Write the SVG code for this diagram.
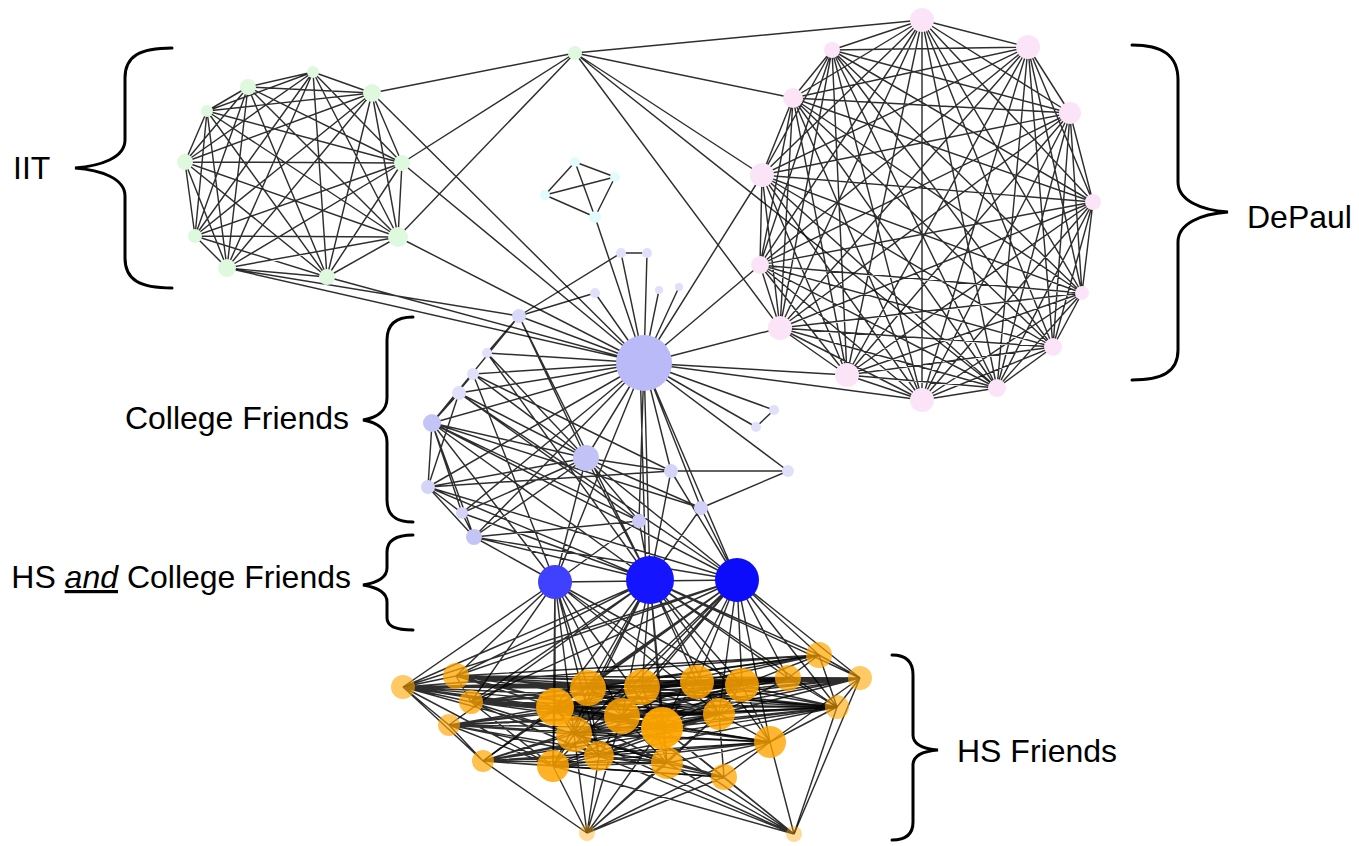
<svg xmlns="http://www.w3.org/2000/svg" width="1359" height="846" viewBox="0 0 1359 846">
<style>
.e{fill:none;stroke:#000;stroke-width:1.45;stroke-opacity:0.82}
.br{fill:none;stroke:#000;stroke-width:3;stroke-linecap:round}
.lbl{font-family:"Liberation Sans",Arial,sans-serif;font-size:32px;fill:#000}
.iit{fill:#dff9df}
.dp{fill:#fce4f8}
.cy{fill:#e0fcfc}
.lv{fill:#e0e0fa}
.or{fill:#ffa500}
</style>
<rect width="1359" height="846" fill="#fff"/>
<g id="connectors">
<path class="e" d="M313 72L248 87M313 72L372 93M313 72L207 111M313 72L185 162M313 72L402 163M313 72L195 236M313 72L398 237M313 72L227 268M313 72L327 277M248 87L372 93M248 87L207 111M248 87L185 162M248 87L402 163M248 87L195 236M248 87L398 237M248 87L227 268M248 87L327 277M372 93L207 111M372 93L185 162M372 93L402 163M372 93L195 236M372 93L398 237M372 93L227 268M372 93L327 277M207 111L185 162M207 111L402 163M207 111L195 236M207 111L398 237M207 111L227 268M207 111L327 277M185 162L402 163M185 162L195 236M185 162L398 237M185 162L227 268M185 162L327 277M402 163L195 236M402 163L398 237M402 163L227 268M402 163L327 277M195 236L398 237M195 236L227 268M195 236L327 277M398 237L227 268M398 237L327 277M227 268L327 277"/>
<path class="e" d="M922 20L832 50M922 20L1028 47M922 20L793 98M922 20L1070 113M922 20L762 175M922 20L1093 202M922 20L760 265M922 20L1082 293M922 20L780 328M922 20L1053 347M922 20L847 375M922 20L997 388M922 20L922 400M832 50L1028 47M832 50L793 98M832 50L1070 113M832 50L762 175M832 50L1093 202M832 50L760 265M832 50L1082 293M832 50L780 328M832 50L1053 347M832 50L847 375M832 50L997 388M832 50L922 400M1028 47L793 98M1028 47L1070 113M1028 47L762 175M1028 47L1093 202M1028 47L760 265M1028 47L1082 293M1028 47L780 328M1028 47L1053 347M1028 47L847 375M1028 47L997 388M1028 47L922 400M793 98L1070 113M793 98L762 175M793 98L1093 202M793 98L760 265M793 98L1082 293M793 98L780 328M793 98L1053 347M793 98L847 375M793 98L997 388M793 98L922 400M1070 113L762 175M1070 113L1093 202M1070 113L760 265M1070 113L1082 293M1070 113L780 328M1070 113L1053 347M1070 113L847 375M1070 113L997 388M1070 113L922 400M762 175L1093 202M762 175L760 265M762 175L1082 293M762 175L780 328M762 175L1053 347M762 175L847 375M762 175L997 388M762 175L922 400M1093 202L760 265M1093 202L1082 293M1093 202L780 328M1093 202L1053 347M1093 202L847 375M1093 202L997 388M1093 202L922 400M760 265L1082 293M760 265L780 328M760 265L1053 347M760 265L847 375M760 265L997 388M760 265L922 400M1082 293L780 328M1082 293L1053 347M1082 293L847 375M1082 293L997 388M1082 293L922 400M780 328L1053 347M780 328L847 375M780 328L997 388M780 328L922 400M1053 347L847 375M1053 347L997 388M1053 347L922 400M847 375L997 388M847 375L922 400M997 388L922 400"/>
<path class="e" d="M575 53L372 93M575 53L402 163M575 53L398 237M575 53L922 20M575 53L793 98M575 53L762 175M575 53L780 328M575 53L997 388M644 363L372 93M644 363L402 163M644 363L398 237M644 363L227 268M644 363L327 277M519 316L227 268M644 363L762 175M644 363L760 265M644 363L780 328M644 363L847 375M644 363L922 400"/>
<path class="e" d="M575 162L615 177M575 162L545 195M575 162L595 217M615 177L545 195M615 177L595 217M545 195L595 217M595 217L644 363M621 253L647 253M621 253L644 363M647 253L644 363M595 293L644 363M659 290L644 363M679 287L644 363M621 253L519 316M595 293L519 316"/>
<path class="e" d="M644 363L519 316M644 363L487 353M644 363L473 374M644 363L459 393M644 363L432 423M644 363L586 458M644 363L774 410M644 363L756 427M644 363L671 471M644 363L788 471M644 363L428 487M644 363L701 508M644 363L462 513M644 363L639 521M644 363L474 537M644 363L555 582M644 363L650 580M640 363L646 580M644 363L737 580M519 316L487 353M519 316L432 423M519 316L586 458M519 316L650 580M487 353L586 458M487 353L650 580M473 374L432 423M473 374L586 458M473 374L555 582M473 374L671 471M459 393L432 423M459 393L428 487M459 393L586 458M459 393L737 580M459 393L639 521M432 423L428 487M432 423L462 513M432 423L474 537M432 423L586 458M432 423L555 582M432 423L650 580M432 423L737 580M432 423L639 521M432 423L701 508M428 487L462 513M428 487L474 537M428 487L586 458M428 487L650 580M428 487L737 580M428 487L671 471M462 513L474 537M462 513L586 458M462 513L650 580M474 537L586 458M474 537L555 582M474 537L650 580M474 537L737 580M474 537L639 521M586 458L671 471M586 458L701 508M586 458L555 582M586 458L650 580M586 458L737 580M586 458L639 521M671 471L788 471M671 471L737 580M671 471L650 580M788 471L701 508M701 508L737 580M701 508L650 580M639 521L650 580M639 521L555 582M774 410L756 427M555 582L737 580"/>
<path class="e" d="M555 582L403 687M555 582L456 676M555 582L471 702M555 582L555 707M555 582L588 688M555 582L622 716M555 582L574 734M555 582L662 728M555 582L697 682M555 582L742 685M555 582L599 756M555 582L553 766M555 582L719 714M650 580L403 687M650 580L456 676M650 580L471 702M650 580L449 725M650 580L555 707M650 580L588 688M650 580L642 687M650 580L622 716M650 580L574 734M650 580L662 728M650 580L553 766M650 580L697 682M650 580L742 685M650 580L719 714M650 580L788 678M650 580L819 655M650 580L860 678M650 580L837 707M650 580L770 742M650 580L667 763M737 580L456 676M737 580L471 702M737 580L555 707M737 580L588 688M737 580L642 687M737 580L622 716M737 580L574 734M737 580L662 728M737 580L697 682M737 580L742 685M737 580L719 714M737 580L788 678M737 580L819 655M737 580L860 678M737 580L837 707M737 580L770 742M737 580L553 766M737 580L483 761M737 580L403 687"/>
<path class="e" d="M403 687L456 676M403 687L471 702M403 687L449 725M403 687L555 707M403 687L588 688M403 687L642 687M403 687L622 716M403 687L574 734M403 687L662 728M403 687L697 682M403 687L742 685M403 687L719 714M403 687L788 678M403 687L819 655M403 687L860 678M403 687L483 761M403 687L553 766M403 687L837 707M403 687L770 742M860 678L819 655M860 678L837 707M860 678L788 678M860 678L742 685M860 678L697 682M860 678L719 714M860 678L770 742M860 678L662 728M860 678L642 687M860 678L622 716M860 678L555 707M860 678L588 688M860 678L471 702M860 678L449 725M860 678L794 834M860 678L456 676M860 678L574 734M456 676L471 702M456 676L555 707M456 676L588 688M456 676L642 687M456 676L697 682M456 676L742 685M456 676L788 678M456 676L819 655M456 676L662 728M456 676L622 716M456 676L837 707M456 676L719 714M471 702L555 707M471 702L588 688M471 702L622 716M471 702L574 734M471 702L662 728M471 702L553 766M471 702L599 756M471 702L667 763M471 702L742 685M471 702L719 714M471 702L837 707M471 702L788 678M471 702L819 655M449 725L555 707M449 725L622 716M449 725L574 734M449 725L662 728M449 725L553 766M449 725L599 756M449 725L667 763M449 725L719 714M449 725L770 742M449 725L483 761M449 725L837 707M449 725L742 685M483 761L555 707M483 761L622 716M483 761L574 734M483 761L662 728M483 761L553 766M483 761L599 756M483 761L667 763M483 761L719 714M483 761L724 777M483 761L587 833M483 761L837 707M483 761L770 742"/>
<path class="e" d="M555 707L588 688M555 707L642 687M555 707L622 716M555 707L574 734M555 707L662 728M555 707L553 766M555 707L599 756M555 707L667 763M555 707L697 682M555 707L742 685M555 707L719 714M555 707L770 742M555 707L788 678M555 707L837 707M588 688L642 687M588 688L622 716M588 688L574 734M588 688L662 728M588 688L599 756M588 688L697 682M588 688L742 685M588 688L719 714M588 688L788 678M588 688L819 655M588 688L837 707M642 687L622 716M642 687L662 728M642 687L697 682M642 687L742 685M642 687L719 714M642 687L788 678M642 687L819 655M642 687L667 763M642 687L837 707M622 716L574 734M622 716L662 728M622 716L599 756M622 716L667 763M622 716L697 682M622 716L742 685M622 716L719 714M622 716L837 707M622 716L788 678M574 734L662 728M574 734L553 766M574 734L599 756M574 734L667 763M574 734L719 714M574 734L770 742M574 734L724 777M574 734L742 685M574 734L837 707M662 728L599 756M662 728L667 763M662 728L697 682M662 728L742 685M662 728L719 714M662 728L837 707M662 728L770 742M662 728L724 777M553 766L599 756M553 766L667 763M553 766L719 714M553 766L770 742M553 766L724 777M553 766L587 833M553 766L742 685M599 756L667 763M599 756L719 714M599 756L770 742M599 756L724 777M599 756L587 833M599 756L837 707M667 763L719 714M667 763L770 742M667 763L724 777M667 763L587 833M667 763L794 834M697 682L742 685M697 682L719 714M697 682L788 678M697 682L819 655M697 682L837 707M742 685L719 714M742 685L788 678M742 685L819 655M742 685L837 707M742 685L770 742M719 714L788 678M719 714L837 707M719 714L770 742M719 714L724 777M788 678L819 655M788 678L837 707M819 655L837 707M837 707L770 742M837 707L794 834M770 742L724 777M770 742L794 834M724 777L794 834M724 777L587 833M587 833L574 734M587 833L662 728M587 833L622 716M587 833L719 714M587 833L770 742M794 834L574 734M794 834L662 728M794 834L553 766M794 834L599 756M794 834L622 716"/>
</g>
<g id="iit-nodes">
<g id="iit1"><circle class="iit" cx="313" cy="72" r="6"/></g>
<g id="iit2"><circle class="iit" cx="248" cy="87" r="8"/></g>
<g id="iit3"><circle class="iit" cx="372" cy="93" r="9"/></g>
<g id="iit4"><circle class="iit" cx="207" cy="111" r="6"/></g>
<g id="iit5"><circle class="iit" cx="185" cy="162" r="8"/></g>
<g id="iit6"><circle class="iit" cx="402" cy="163" r="8"/></g>
<g id="iit7"><circle class="iit" cx="195" cy="236" r="7"/></g>
<g id="iit8"><circle class="iit" cx="398" cy="237" r="10"/></g>
<g id="iit9"><circle class="iit" cx="227" cy="268" r="9"/></g>
<g id="iit10"><circle class="iit" cx="327" cy="277" r="8"/></g>
<g id="iit11"><circle class="iit" cx="575" cy="53" r="7"/></g>
</g>
<g id="depaul-nodes">
<g id="dp1"><circle class="dp" cx="922" cy="20" r="12"/></g>
<g id="dp2"><circle class="dp" cx="832" cy="50" r="8"/></g>
<g id="dp3"><circle class="dp" cx="1028" cy="47" r="12"/></g>
<g id="dp4"><circle class="dp" cx="793" cy="98" r="10"/></g>
<g id="dp5"><circle class="dp" cx="1070" cy="113" r="11"/></g>
<g id="dp6"><circle class="dp" cx="762" cy="175" r="12"/></g>
<g id="dp7"><circle class="dp" cx="1093" cy="202" r="8"/></g>
<g id="dp8"><circle class="dp" cx="760" cy="265" r="9"/></g>
<g id="dp9"><circle class="dp" cx="1082" cy="293" r="7"/></g>
<g id="dp10"><circle class="dp" cx="780" cy="328" r="12"/></g>
<g id="dp11"><circle class="dp" cx="1053" cy="347" r="9"/></g>
<g id="dp12"><circle class="dp" cx="847" cy="375" r="12"/></g>
<g id="dp13"><circle class="dp" cx="997" cy="388" r="9"/></g>
<g id="dp14"><circle class="dp" cx="922" cy="400" r="12"/></g>
</g>
<g id="other-nodes">
<g id="cy1"><circle class="cy" cx="575" cy="162" r="5"/></g>
<g id="cy2"><circle class="cy" cx="615" cy="177" r="5"/></g>
<g id="cy3"><circle class="cy" cx="545" cy="195" r="5"/></g>
<g id="cy4"><circle class="cy" cx="595" cy="217" r="6"/></g>
</g>
<g id="college-nodes">
<g id="t1"><circle class="lv" cx="621" cy="253" r="5"/></g>
<g id="t2"><circle class="lv" cx="647" cy="253" r="5"/></g>
<g id="t3"><circle class="lv" cx="595" cy="293" r="5"/></g>
<g id="t4"><circle class="lv" cx="659" cy="290" r="4"/></g>
<g id="t5"><circle class="lv" cx="679" cy="287" r="4"/></g>
<g id="c0"><circle cx="644" cy="363" r="28" fill="#babaf8"/></g>
<g id="c1"><circle cx="519" cy="316" r="7" fill="#d8d8f8"/></g>
<g id="c2"><circle class="lv" cx="487" cy="353" r="5"/></g>
<g id="c3"><circle class="lv" cx="473" cy="374" r="6"/></g>
<g id="c4"><circle class="lv" cx="459" cy="393" r="7"/></g>
<g id="c5"><circle cx="432" cy="423" r="9" fill="#c4c4f6"/></g>
<g id="c6"><circle cx="586" cy="458" r="13" fill="#c2c2f6"/></g>
<g id="c7"><circle class="lv" cx="774" cy="410" r="5"/></g>
<g id="c8"><circle class="lv" cx="756" cy="427" r="5"/></g>
<g id="c9"><circle cx="671" cy="471" r="7" fill="#d4d4f8"/></g>
<g id="c10"><circle class="lv" cx="788" cy="471" r="6"/></g>
<g id="c11"><circle cx="428" cy="487" r="7" fill="#d4d4f8"/></g>
<g id="c12"><circle cx="701" cy="508" r="7" fill="#d0d0f8"/></g>
<g id="c13"><circle cx="462" cy="513" r="6" fill="#d4d4f8"/></g>
<g id="c14"><circle cx="639" cy="521" r="7" fill="#cacaf6"/></g>
<g id="c15"><circle cx="474" cy="537" r="8" fill="#c4c4f6"/></g>
</g>
<g id="hs-college-nodes">
<g id="b1"><circle cx="555" cy="582" r="17" fill="#4040ff"/></g>
<g id="b2"><circle cx="650" cy="580" r="24" fill="#1414ff"/></g>
<g id="b3"><circle cx="737" cy="580" r="22" fill="#0c0cfa"/></g>
</g>
<g id="hs-nodes">
<g id="o1"><circle class="or" cx="403" cy="687" r="12" fill-opacity="0.6"/></g>
<g id="o2"><circle class="or" cx="456" cy="676" r="13" fill-opacity="0.75"/></g>
<g id="o3"><circle class="or" cx="471" cy="702" r="12" fill-opacity="0.75"/></g>
<g id="o4"><circle class="or" cx="449" cy="725" r="11" fill-opacity="0.65"/></g>
<g id="o5"><circle class="or" cx="483" cy="761" r="11" fill-opacity="0.7"/></g>
<g id="o6"><circle class="or" cx="555" cy="707" r="19" fill-opacity="0.9"/></g>
<g id="o7"><circle class="or" cx="588" cy="688" r="18" fill-opacity="0.85"/></g>
<g id="o8"><circle class="or" cx="642" cy="687" r="18" fill-opacity="0.85"/></g>
<g id="o9"><circle class="or" cx="622" cy="716" r="18" fill-opacity="0.85"/></g>
<g id="o10"><circle class="or" cx="574" cy="734" r="18" fill-opacity="0.8"/></g>
<g id="o11"><circle class="or" cx="662" cy="728" r="21" fill-opacity="0.95"/></g>
<g id="o12"><circle class="or" cx="553" cy="766" r="16" fill-opacity="0.85"/></g>
<g id="o13"><circle class="or" cx="599" cy="756" r="15" fill-opacity="0.8"/></g>
<g id="o14"><circle class="or" cx="667" cy="763" r="16" fill-opacity="0.8"/></g>
<g id="o15"><circle class="or" cx="697" cy="682" r="17" fill-opacity="0.85"/></g>
<g id="o16"><circle class="or" cx="742" cy="685" r="17" fill-opacity="0.85"/></g>
<g id="o17"><circle class="or" cx="719" cy="714" r="16" fill-opacity="0.85"/></g>
<g id="o18"><circle class="or" cx="788" cy="678" r="13" fill-opacity="0.75"/></g>
<g id="o19"><circle class="or" cx="819" cy="655" r="13" fill-opacity="0.7"/></g>
<g id="o20"><circle class="or" cx="860" cy="678" r="12" fill-opacity="0.6"/></g>
<g id="o21"><circle class="or" cx="837" cy="707" r="12" fill-opacity="0.6"/></g>
<g id="o22"><circle class="or" cx="770" cy="742" r="16" fill-opacity="0.8"/></g>
<g id="o23"><circle class="or" cx="724" cy="777" r="13" fill-opacity="0.75"/></g>
<g id="o24"><circle class="or" cx="587" cy="833" r="8" fill-opacity="0.4"/></g>
<g id="o25"><circle class="or" cx="794" cy="834" r="8" fill-opacity="0.4"/></g>
</g>
<g id="labels">
<g id="lbl-iit"><path class="br" d="M172 48C140 48 125 56 125 78L125 140C125 158 100 166 75 168C100 170 125 178 125 196L125 258C125 280 140 288 172 288"/><text class="lbl" x="13" y="179" font-size="29">IIT</text></g>
<g id="lbl-depaul"><path class="br" d="M1132 45C1162 45 1178 55 1178 80L1178 182C1178 200 1200 210 1228 212C1200 214 1178 224 1178 242L1178 350C1178 372 1162 380 1132 380"/><text class="lbl" x="1247" y="228">DePaul</text></g>
<g id="lbl-college"><path class="br" d="M413 317C395 317 387 325 387 340L387 398C387 412 375 418 363 420C375 422 387 428 387 442L387 500C387 515 395 522 413 522"/><text class="lbl" x="349" y="429" text-anchor="end">College Friends</text></g>
<g id="lbl-hscollege"><path class="br" d="M413 535C395 535 387 541 387 552L387 568C387 578 375 583 363 585C375 587 387 592 387 602L387 618C387 626 395 630 413 630"/><text class="lbl" x="351" y="588" text-anchor="end">HS <tspan font-style="italic" text-decoration="underline">and</tspan> College Friends</text></g>
<g id="lbl-hs"><path class="br" d="M892 655C906 655 913 662 913 675L913 735C913 745 925 749 938 750C925 751 913 755 913 765L913 822C913 834 906 840 892 840"/><text class="lbl" x="957" y="762">HS Friends</text></g>
</g>
</svg>
